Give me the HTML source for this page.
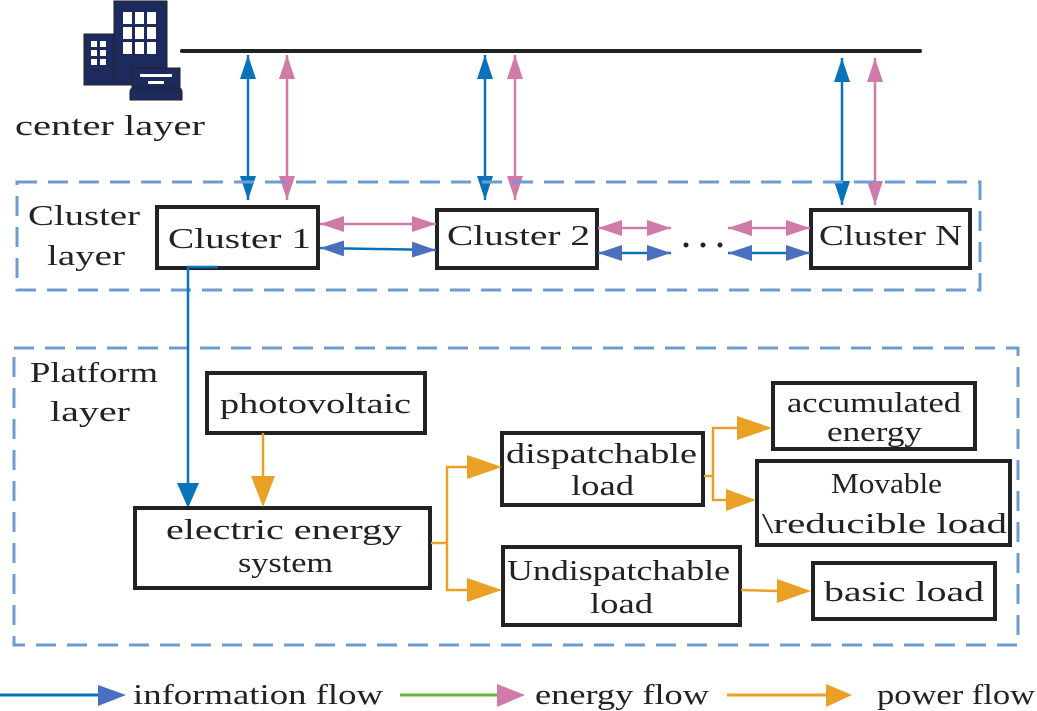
<!DOCTYPE html>
<html><head><meta charset="utf-8"><style>
html,body{margin:0;padding:0;background:#fff;}
svg{display:block;}
text{font-family:"Liberation Serif","Liberation Mono",serif;font-size:28px;fill:#222;}
</style></head><body>
<svg width="1037" height="711" viewBox="0 0 1037 711" xmlns="http://www.w3.org/2000/svg">
<defs>
<marker id="ab" viewBox="0 0 24 16" refX="24" refY="8" markerWidth="24" markerHeight="16" markerUnits="userSpaceOnUse" orient="auto-start-reverse"><path d="M0,0L24,8L0,16z" fill="#0873b8"/></marker>
<marker id="ab2" viewBox="0 0 24 16" refX="24" refY="8" markerWidth="24" markerHeight="16" markerUnits="userSpaceOnUse" orient="auto-start-reverse"><path d="M0,0L24,8L0,16z" fill="#4a6fbf"/></marker>
<marker id="ap" viewBox="0 0 24 16" refX="24" refY="8" markerWidth="24" markerHeight="16" markerUnits="userSpaceOnUse" orient="auto-start-reverse"><path d="M0,0L24,8L0,16z" fill="#cf7aa8"/></marker>
</defs>

<!-- building icon -->
<g fill="#1c2a5e" stroke="#222" stroke-width="1">
<rect x="84" y="34" width="32" height="51"/>
<rect x="114" y="1" width="53" height="84"/>
<rect x="132" y="68" width="48" height="22"/>
<path d="M130,100 L130,92 Q130,88 134,88 L178,88 Q182,88 182,92 L182,100 Z"/>
</g>
<g fill="#fff">
<rect x="91" y="41" width="6" height="6"/><rect x="100" y="41" width="6" height="6"/>
<rect x="91" y="50" width="6" height="6"/><rect x="100" y="50" width="6" height="6"/>
<rect x="91" y="59" width="6" height="6"/><rect x="100" y="59" width="6" height="6"/>
<rect x="123" y="12" width="9" height="12"/><rect x="135" y="12" width="9" height="12"/><rect x="147" y="12" width="9" height="12"/>
<rect x="123" y="27" width="9" height="12"/><rect x="135" y="27" width="9" height="12"/><rect x="147" y="27" width="9" height="12"/>
<rect x="123" y="42" width="9" height="12"/><rect x="135" y="42" width="9" height="12"/><rect x="147" y="42" width="9" height="12"/>
<rect x="140" y="74" width="32" height="3"/><rect x="148" y="81" width="16" height="3"/>
</g>
<text x="15" y="135" textLength="190" lengthAdjust="spacingAndGlyphs">center layer</text>

<!-- bus -->
<line x1="182" y1="51" x2="920" y2="51" stroke="#222" stroke-width="4" stroke-linecap="round"/>

<!-- vertical arrows -->
<g stroke-width="2.5">
<line x1="248" y1="55" x2="248" y2="200" stroke="#0873b8" marker-start="url(#ab)" marker-end="url(#ab)"/>
<line x1="287" y1="55" x2="287" y2="200" stroke="#cf7aa8" marker-start="url(#ap)" marker-end="url(#ap)"/>
<line x1="485" y1="55" x2="485" y2="200" stroke="#0873b8" marker-start="url(#ab)" marker-end="url(#ab)"/>
<line x1="515" y1="55" x2="515" y2="200" stroke="#cf7aa8" marker-start="url(#ap)" marker-end="url(#ap)"/>
<line x1="842" y1="58" x2="842" y2="205" stroke="#0873b8" marker-start="url(#ab)" marker-end="url(#ab)"/>
<line x1="875" y1="58" x2="875" y2="205" stroke="#cf7aa8" marker-start="url(#ap)" marker-end="url(#ap)"/>
</g>

<!-- dashed boxes -->
<rect x="17" y="182" width="963" height="108" fill="none" stroke="#6d9cd2" stroke-width="3" stroke-dasharray="20 11"/>
<rect x="14" y="348" width="1004" height="297" fill="none" stroke="#6d9cd2" stroke-width="3" stroke-dasharray="20 11"/>

<text x="28" y="225" textLength="112" lengthAdjust="spacingAndGlyphs">Cluster</text>
<text x="47" y="265" textLength="78" lengthAdjust="spacingAndGlyphs">layer</text>

<!-- cluster boxes -->
<g fill="#fff" stroke="#222" stroke-width="4">
<rect x="157" y="207" width="161" height="61"/>
<rect x="437" y="210" width="160" height="58"/>
<rect x="811" y="210" width="159" height="58"/>
</g>
<text x="168" y="248" textLength="143" lengthAdjust="spacingAndGlyphs">Cluster 1</text>
<text x="447" y="245" textLength="143" lengthAdjust="spacingAndGlyphs">Cluster 2</text>
<text x="819" y="245" textLength="143" lengthAdjust="spacingAndGlyphs">Cluster N</text>

<!-- horizontal cluster arrows -->
<g stroke-width="2.5">
<line x1="320" y1="224" x2="436" y2="224" stroke="#cf7aa8" marker-start="url(#ap)" marker-end="url(#ap)"/>
<line x1="320" y1="248" x2="436" y2="250" stroke="#0873b8" marker-start="url(#ab2)" marker-end="url(#ab2)"/>
<line x1="598" y1="228" x2="671" y2="228" stroke="#cf7aa8" marker-start="url(#ap)" marker-end="url(#ap)"/>
<line x1="598" y1="253" x2="671" y2="253" stroke="#0873b8" marker-start="url(#ab2)" marker-end="url(#ab2)"/>
<line x1="728" y1="228" x2="810" y2="228" stroke="#cf7aa8" marker-start="url(#ap)" marker-end="url(#ap)"/>
<line x1="728" y1="253" x2="810" y2="253" stroke="#0873b8" marker-start="url(#ab2)" marker-end="url(#ab2)"/>
</g>
<g fill="#222"><circle cx="686" cy="245" r="2.5"/><circle cx="703" cy="245" r="2.5"/><circle cx="720" cy="245" r="2.5"/></g>

<!-- info line from cluster 1 -->
<polyline points="218,267 188,267 188,486" fill="none" stroke="#0873b8" stroke-width="2.5"/>
<path d="M177,483 L199,483 L188,508 Z" fill="#0873b8"/>

<text x="30" y="382" textLength="128" lengthAdjust="spacingAndGlyphs">Platform</text>
<text x="50" y="421" textLength="80" lengthAdjust="spacingAndGlyphs">layer</text>

<!-- platform boxes -->
<g fill="#fff" stroke="#222" stroke-width="4">
<rect x="207" y="373" width="218" height="60"/>
<rect x="135" y="508" width="295" height="80"/>
<rect x="502" y="433" width="201" height="72"/>
<rect x="503" y="547" width="237" height="78"/>
<rect x="773" y="383" width="202" height="66"/>
<rect x="757" y="461" width="253" height="84"/>
<rect x="813" y="563" width="182" height="56"/>
</g>
<text x="220" y="413" textLength="191" lengthAdjust="spacingAndGlyphs">photovoltaic</text>
<text x="166" y="539" textLength="236" lengthAdjust="spacingAndGlyphs">electric energy</text>
<text x="238" y="572" textLength="95" lengthAdjust="spacingAndGlyphs">system</text>
<text x="506" y="463" textLength="191" lengthAdjust="spacingAndGlyphs">dispatchable</text>
<text x="571" y="495" textLength="63" lengthAdjust="spacingAndGlyphs">load</text>
<text x="507" y="580" textLength="223" lengthAdjust="spacingAndGlyphs">Undispatchable</text>
<text x="590" y="613" textLength="63" lengthAdjust="spacingAndGlyphs">load</text>
<text x="787" y="412" textLength="174" lengthAdjust="spacingAndGlyphs">accumulated</text>
<text x="827" y="441" textLength="95" lengthAdjust="spacingAndGlyphs">energy</text>
<text x="831" y="493" textLength="111" lengthAdjust="spacingAndGlyphs">Movable</text>
<text x="762" y="533" textLength="245" lengthAdjust="spacingAndGlyphs">\reducible load</text>
<text x="824" y="601" textLength="160" lengthAdjust="spacingAndGlyphs">basic load</text>

<!-- orange flows -->
<g stroke="#e9a024" stroke-width="2.5" fill="none">
<line x1="263" y1="433" x2="263" y2="485"/>
<polyline points="431,543 447,543"/>
<polyline points="472,467 447,467 447,590 472,590"/>
<polyline points="704,476 713,476"/>
<polyline points="740,428 713,428 713,500 728,500"/>
<line x1="741" y1="590" x2="778" y2="591"/>
</g>
<g fill="#e9a024">
<path d="M251,476 L275,476 L263,507 Z"/>
<path d="M467,455 L502,467 L467,479 Z"/>
<path d="M467,578 L502,590 L467,602 Z"/>
<path d="M737,416 L772,428 L737,440 Z"/>
<path d="M726,489 L756,500 L726,511 Z"/>
<path d="M777,579 L811,591 L777,603 Z"/>
</g>

<!-- legend -->
<line x1="0" y1="695" x2="102" y2="695" stroke="#0873b8" stroke-width="3"/>
<path d="M98,685 L126,695 L98,706 Z" fill="#4a6fbf"/>
<text x="133" y="704" textLength="250" lengthAdjust="spacingAndGlyphs">information flow</text>
<line x1="400" y1="695" x2="500" y2="695" stroke="#6db04a" stroke-width="3"/>
<path d="M497,684 L525,695 L497,707 Z" fill="#cf7aa8"/>
<text x="535" y="704" textLength="174" lengthAdjust="spacingAndGlyphs">energy flow</text>
<line x1="727" y1="695" x2="828" y2="695" stroke="#e9a024" stroke-width="3"/>
<path d="M826,684 L852,695 L826,707 Z" fill="#e9a024"/>
<text x="877" y="704" textLength="158" lengthAdjust="spacingAndGlyphs">power flow</text>
</svg>
</body></html>
